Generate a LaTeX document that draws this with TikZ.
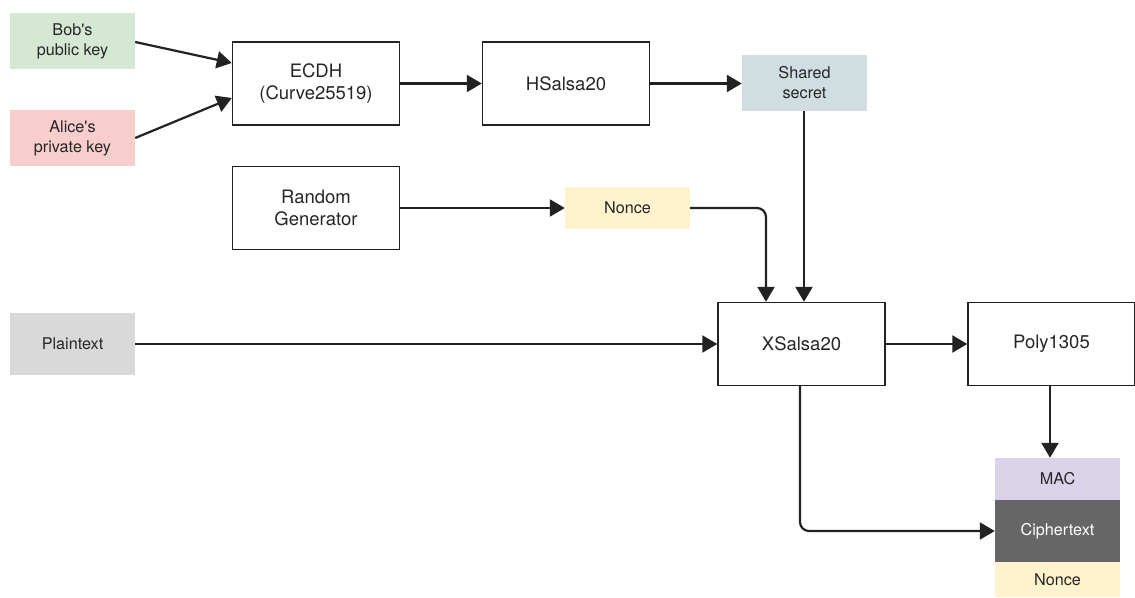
\documentclass[tikz,border=0pt]{standalone}
\usepackage{fontspec}
\newfontfamily\hel{TeX Gyre Heros}
\usetikzlibrary{arrows.meta}
\definecolor{cgreen}{HTML}{D5E8D4}
\definecolor{cpink}{HTML}{F8CECC}
\definecolor{cblue}{HTML}{D0DEE2}
\definecolor{cyellow}{HTML}{FFF2CC}
\definecolor{cgrey}{HTML}{D9D9D9}
\definecolor{clav}{HTML}{D9D2E9}
\definecolor{cdark}{HTML}{666666}
\definecolor{cline}{HTML}{222222}
\tikzset{
  blk/.style={draw=cline, line width=1.4pt, fill=white, minimum width=167pt, minimum height=83pt,
    align=center, font=\hel\fontsize{18.5}{22}\selectfont, text=black!85, inner sep=0pt},
  tag/.style={draw=none, minimum width=125pt, align=center, font=\hel\fontsize{16.2}{20}\selectfont,
    text=black!85, inner sep=0pt},
  conn/.style={draw=cline, line width=2.2pt, -{Triangle[length=15pt,width=17pt]}, rounded corners=9pt}
}
\begin{document}
\begin{tikzpicture}[x=1pt,y=-1pt]
\useasboundingbox (0,0) rectangle (1135,597);
% tags
\node[tag, fill=cgreen, minimum height=56pt] (bob) at (72.5,41) {Bob's\\public key};
\node[tag, fill=cpink, minimum height=56pt] (alice) at (72.5,138) {Alice's\\private key};
\node[tag, fill=cblue, minimum height=56pt] (shared) at (804.5,83) {Shared\\secret};
\node[tag, fill=cyellow, minimum height=42pt] (nonce) at (627.5,208) {Nonce};
\node[tag, fill=cgrey, minimum height=62pt] (plain) at (72.5,344) {Plaintext};
\node[tag, fill=clav, minimum height=42pt] (mac) at (1057.5,479) {MAC};
\node[tag, fill=cdark, minimum height=62pt, text=white] (cipher) at (1057.5,531) {Ciphertext};
\node[tag, fill=cyellow, minimum height=35pt] (nonce2) at (1057.5,579.5) {Nonce};
% blocks
\node[blk] (ecdh) at (316,83.5) {ECDH\\(Curve25519)};
\node[blk] (hsalsa) at (566,83.5) {HSalsa20};
\node[blk] (rng) at (316,208) {Random\\Generator};
\node[blk] (xsalsa) at (801.5,344) {XSalsa20};
\node[blk] (poly) at (1051.5,344) {Poly1305};
% connectors
\draw[conn] (bob.east |- 0,42) -- (ecdh.west |- 0,63);
\draw[conn] (alice.east |- 0,138) -- (ecdh.west |- 0,98);
\draw[conn] (ecdh) -- (hsalsa);
\draw[conn] (hsalsa.east) -- (shared.west |- hsalsa.east);
\draw[conn] (shared.south -| 804,0) -- (xsalsa.north -| 804,0);
\draw[conn] (rng.east) -- (nonce.west);
\draw[conn] (nonce.east) -| (xsalsa.north -| 766,0);
\draw[conn] (plain.east) -- (xsalsa.west);
\draw[conn] (xsalsa.east) -- (poly.west);
\draw[conn] (poly.south -| 1050,0) -- (mac.north -| 1050,0);
\draw[conn] (xsalsa.south -| 800,0) |- (cipher.west);
\end{tikzpicture}
\end{document}
